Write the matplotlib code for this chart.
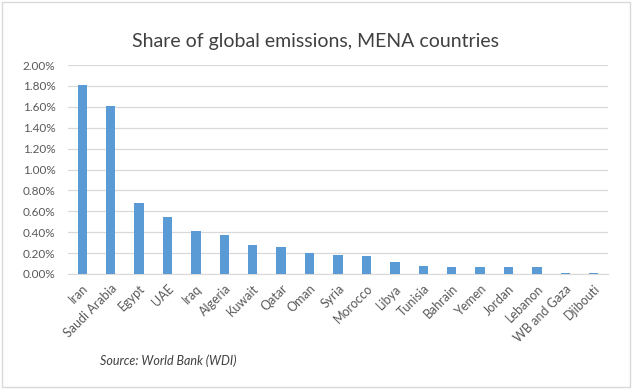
import numpy as np
import matplotlib.pyplot as plt
from matplotlib.ticker import FuncFormatter
from matplotlib.patches import Rectangle

countries = ["Iran", "Saudi Arabia", "Egypt", "UAE", "Iraq", "Algeria", "Kuwait", "Qatar",
             "Oman", "Syria", "Morocco", "Libya", "Tunisia", "Bahrain", "Yemen", "Jordan",
             "Lebanon", "WB and Gaza", "Djibouti"]
share_pct = [1.81, 1.61, 0.68, 0.55, 0.41, 0.37, 0.28, 0.26, 0.20, 0.18, 0.17, 0.115,
             0.077, 0.067, 0.067, 0.067, 0.067, 0.01, 0.01]
yticks = np.arange(0, 2.01, 0.2)

plt.rcParams["font.family"] = ["Lato", "DejaVu Sans"]

fig = plt.figure(figsize=(6.32, 3.89), dpi=100)
ax = fig.add_axes([68 / 632, 1 - 274 / 389, 540 / 632, 209 / 389])

x = np.arange(len(countries))
ax.bar(x, share_pct, width=0.33, color="#5B9BD5", zorder=3)

ax.set_ylim(0, 2.0)
ax.set_xlim(-0.5, len(countries) - 0.5)
ax.set_yticks(yticks)
ax.yaxis.set_major_formatter(FuncFormatter(lambda v, _: f"{v:.2f}%"))
ax.grid(axis="y", color="#D9D9D9", linewidth=0.9, zorder=0)
ax.set_xticks(x)
ax.set_xticklabels(countries, rotation=45, ha="right", rotation_mode="anchor")
ax.tick_params(axis="both", length=0, labelcolor="#595959")
ax.tick_params(axis="y", pad=9, labelsize=8.5)
ax.tick_params(axis="x", pad=6, labelsize=9)
for s in ["top", "right", "left"]:
    ax.spines[s].set_visible(False)
ax.spines["bottom"].set_color("#D9D9D9")

fig.text(0.5, 1 - 42 / 389, "Share of global emissions, MENA countries", ha="center",
         va="center", fontsize=14, color="#404040")
fig.text(100 / 632, 1 - 361 / 389, "Source: World Bank (WDI)", ha="left", va="center",
         fontsize=9, style="italic", color="#404040")

fig.patches.append(Rectangle((0.003, 0.004), 0.994, 0.992, transform=fig.transFigure,
                             fill=False, edgecolor="#D9D9D9", linewidth=1))

fig.savefig("out.png", dpi=100)
